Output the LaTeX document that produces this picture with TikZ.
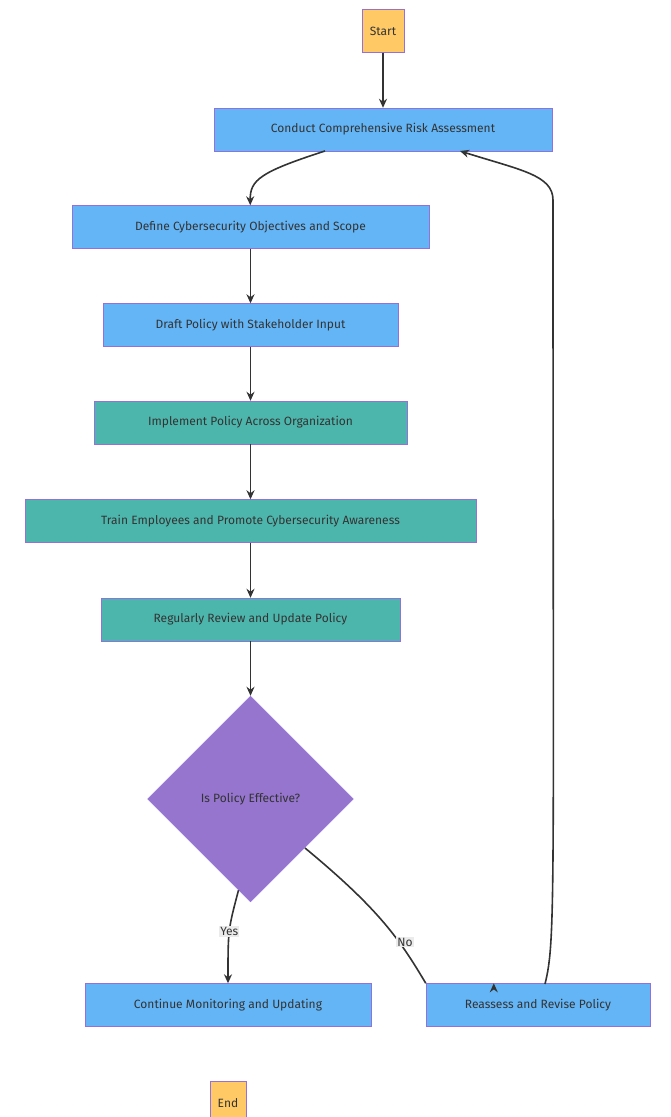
\documentclass[tikz,border=0pt]{standalone}
\usepackage{fontspec}
\setmainfont{Fira Sans}
\usetikzlibrary{shapes.geometric,arrows.meta}
\definecolor{startc}{HTML}{FFC966}
\definecolor{stepc}{HTML}{64B5F6}
\definecolor{actc}{HTML}{4DB6AC}
\definecolor{decc}{HTML}{9575CD}
\definecolor{edgec}{HTML}{9370DB}
\definecolor{linec}{HTML}{333333}
\tikzset{
  box/.style={draw=edgec, fill=stepc, minimum height=43pt, inner xsep=8pt, font=\fontsize{12}{14}\selectfont, text=linec},
  term/.style={box, fill=startc},
  act/.style={box, fill=actc},
  dec/.style={diamond, draw=edgec, fill=decc, minimum width=206pt, minimum height=206pt, inner sep=0pt, font=\fontsize{12}{14}\selectfont, text=linec},
  flow/.style={-{Stealth[length=9pt,width=8pt]}, line width=1.6pt, draw=linec},
  lbl/.style={fill=black!8, inner sep=1pt, font=\fontsize{12}{14}\selectfont, text=linec}
}
\begin{document}
\begin{tikzpicture}[x=1pt,y=-1pt]
	\useasboundingbox (0,0) rectangle (671,1117);

	%nodes
	\node[term] (start) at (383,31) {Start};
	\node[box, minimum width=338pt] (risk) at (383,129.5) {Conduct Comprehensive Risk Assessment};
	\node[box, minimum width=357pt] (scope) at (250.5,227) {Define Cybersecurity Objectives and Scope};
	\node[box, minimum width=295pt] (draft) at (250.5,325) {Draft Policy with Stakeholder Input};
	\node[act, minimum width=313pt] (impl) at (250.5,422.5) {Implement Policy Across Organization};
	\node[act, minimum width=451pt] (train) at (250.5,521) {Train Employees and Promote Cybersecurity Awareness};
	\node[act, minimum width=299pt] (review) at (250.5,619.5) {Regularly Review and Update Policy};
	\node[dec] (check) at (250.5,799) {Is Policy Effective?};
	\node[box, minimum width=286pt] (monitor) at (228,1005) {Continue Monitoring and Updating};
	\node[box, minimum width=224pt] (revise) at (538,1005) {Reassess and Revise Policy};
	\node[term] (end) at (228,1103) {End};

	%edges
	\coordinate (c1) at (553,200);
	\draw[flow] (start) -- (risk);
	\draw[flow] (325,151) .. controls (260,172) and (250,180) .. (scope);
	\draw[flow] (scope) -- (draft);
	\draw[flow] (draft) -- (impl);
	\draw[flow] (impl) -- (train);
	\draw[flow] (train) -- (review);
	\draw[flow] (review) -- (check);
	\draw[flow] (check.south) ++(-12,-12) .. controls (228,930) .. (monitor) node[lbl, pos=0.5] {Yes};
	\draw[flow] (305,848) .. controls (380,910) and (400,940) .. (revise.north west) ++(68,0) node[lbl] at (405,942) {No};
	\draw[flow] (545,984) .. controls (556,940) and (553,900) .. (c1) .. controls (553,175) and (520,170) .. (460,151);
\end{tikzpicture}
\end{document}
